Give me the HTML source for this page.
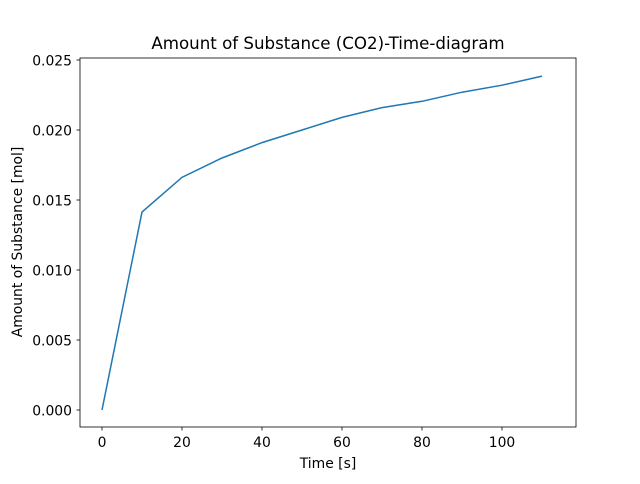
<!DOCTYPE html>
<html><head><meta charset="utf-8"><style>
body{margin:0;background:#fff;font-family:"DejaVu Sans","Liberation Sans",sans-serif;}
svg text{font-family:"DejaVu Sans","Liberation Sans",sans-serif;fill:#000}
</style></head><body>
<svg id="chart" width="640" height="480" viewBox="0 0 640 480">
<rect x="0" y="0" width="640" height="480" fill="#fff"/>
<text x="328" y="49" font-size="16.67" text-anchor="middle">Amount of Substance (CO2)-Time-diagram</text>
<g id="xt"></g><g id="yt"></g>
<polyline id="line" fill="none" stroke="#1f77b4" stroke-width="1.5"/>
<rect x="80" y="58" width="496" height="369" fill="none" stroke="#000" stroke-width="0.8"/>
<text x="328" y="468" font-size="13.9" text-anchor="middle">Time [s]</text>
<text transform="translate(22,242) rotate(-90)" font-size="13.9" text-anchor="middle">Amount of Substance [mol]</text>
</svg>
<script>
const times=[0,10,20,30,40,50,60,70,80,90,100,110];
const amounts=[0,0.01414,0.01662,0.01800,0.01910,0.02000,0.02090,0.02160,0.02205,0.02270,0.02320,0.02385];
const xTicks=[0,20,40,60,80,100];
const yTicks=[0,0.005,0.010,0.015,0.020,0.025];
const yTickLabels=["0.000","0.005","0.010","0.015","0.020","0.025"];
const xs=v=>102+v*4;
const ys=v=>410-v*14000;
const ns="http://www.w3.org/2000/svg";
const line=document.getElementById('line');
line.setAttribute('points',times.map((t,i)=>xs(t)+','+ys(amounts[i])).join(' '));
const xt=document.getElementById('xt'),yt=document.getElementById('yt');
xTicks.forEach(v=>{
 const l=document.createElementNS(ns,'line');
 
 
 l.setAttribute('x1',xs(v));l.setAttribute('x2',xs(v));l.setAttribute('y1',427);l.setAttribute('y2',430.5);l.setAttribute('stroke','#000');l.setAttribute('stroke-width','0.8');
 xt.appendChild(l);
 const t=document.createElementNS(ns,'text');
 
 
 t.setAttribute('x',xs(v));t.setAttribute('y',447);t.setAttribute('font-size','13.9');t.setAttribute('text-anchor','middle');
 t.textContent=v;xt.appendChild(t);
});
yTicks.forEach((v,i)=>{
 const l=document.createElementNS(ns,'line');
 
 
 l.setAttribute('x1',76.5);l.setAttribute('x2',80);l.setAttribute('y1',ys(v));l.setAttribute('y2',ys(v));l.setAttribute('stroke','#000');l.setAttribute('stroke-width','0.8');
 yt.appendChild(l);
 const t=document.createElementNS(ns,'text');
 
 
 t.setAttribute('x',72);t.setAttribute('y',ys(v)+5.5);t.setAttribute('font-size','13.9');t.setAttribute('text-anchor','end');
 t.textContent=yTickLabels[i];yt.appendChild(t);
});
</script>
</body></html>
